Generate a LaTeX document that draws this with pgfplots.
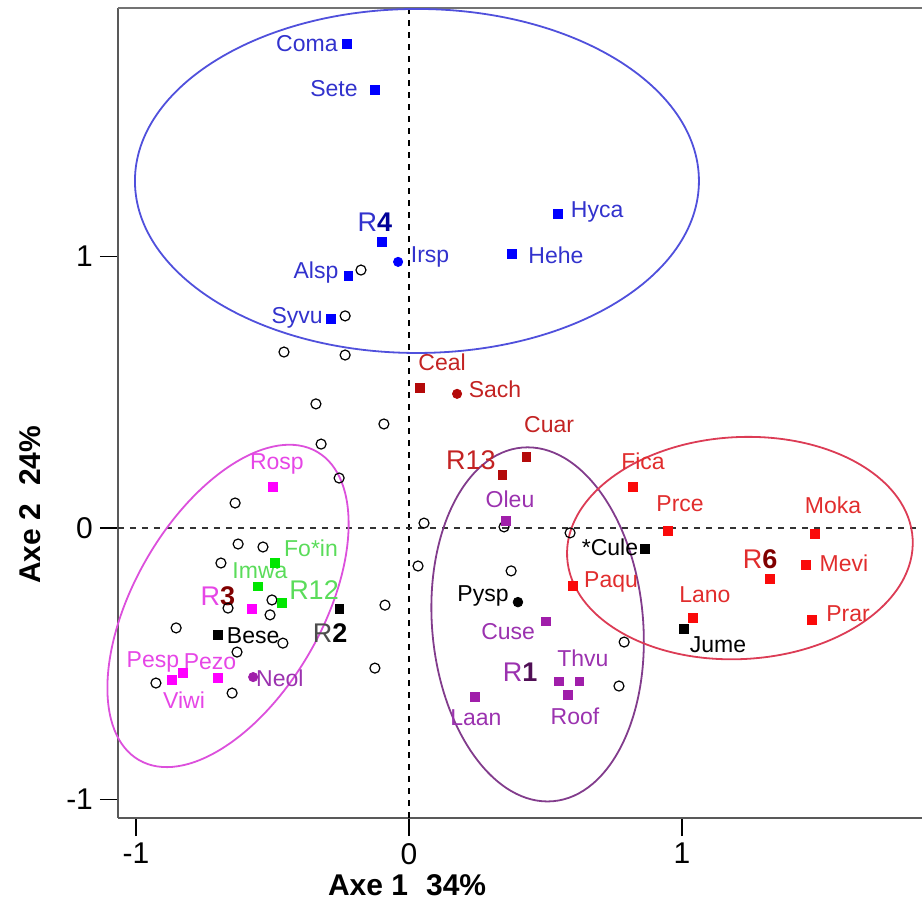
\documentclass[border=0pt]{standalone}
\usepackage{pgfplots}
\pgfplotsset{compat=1.18}
\usepackage{fontspec}
\setmainfont{Liberation Sans}
\definecolor{bluem}{RGB}{0,0,255}
\definecolor{bluel}{RGB}{50,50,205}
\definecolor{bluee}{RGB}{80,80,220}
\definecolor{redm}{RGB}{250,10,10}
\definecolor{redl}{RGB}{225,45,45}
\definecolor{dredm}{RGB}{180,10,10}
\definecolor{dredl}{RGB}{195,35,35}
\definecolor{rede}{RGB}{220,60,85}
\definecolor{purm}{RGB}{160,30,170}
\definecolor{purl}{RGB}{155,50,175}
\definecolor{pure}{RGB}{130,60,140}
\definecolor{magm}{RGB}{255,0,255}
\definecolor{magl}{RGB}{230,70,230}
\definecolor{mage}{RGB}{220,80,220}
\definecolor{grnm}{RGB}{0,230,0}
\definecolor{grnl}{RGB}{90,220,90}
\newcommand\lbl{\fontsize{11.5}{12}\selectfont}
\newcommand\rlbl{\fontsize{13.5}{14}\selectfont}
\newcommand\lab[4]{\node[text=#1, font=\lbl, inner sep=0pt] at (axis cs:#2,#3) {#4};}
\newcommand\rlab[4]{\node[text=#1, font=\rlbl, inner sep=0pt] at (axis cs:#2,#3) {#4};}
\begin{document}
\begin{tikzpicture}
\useasboundingbox (-59pt,-44pt) rectangle (402pt,409pt);
\begin{axis}[at={(0pt,0pt)}, anchor=south west, scale only axis,
  width=402pt, height=405pt,
  xmin=-1.066, xmax=1.879, ymin=-1.068, ymax=1.915,
  axis x line*=bottom, axis y line*=left,
  axis line style={line width=1pt, black!65},
  xtick={-1,0,1}, ytick={-1,0,1},
  xticklabels={-1,0,1}, yticklabels={-1,0,1},
  tick align=outside, major tick length=9pt,
  tick style={black, line width=0.7pt},
  ticklabel style={font=\fontsize{15}{15}\selectfont},
  clip=false]
\draw[black!55, line width=1pt] (rel axis cs:0,1) -- (rel axis cs:1,1);
\addplot[black, dashed, line width=0.7pt] coordinates {(0,-1.068) (0,1.915)};
\addplot[black!80, dashed, line width=0.7pt] coordinates {(-1.066,0) (1.879,0)};
% ellipses
\draw[bluee, line width=0.9pt] (axis cs:0.029,1.278) ellipse [x radius=141pt, y radius=86pt];
\draw[mage, line width=0.9pt, rotate around={60:(axis cs:-0.663,-0.287)}] (axis cs:-0.663,-0.287) ellipse [x radius=89pt, y radius=47pt];
\draw[pure, line width=0.9pt, rotate around={5:(axis cs:0.471,-0.355)}] (axis cs:0.471,-0.355) ellipse [x radius=52.75pt, y radius=88.75pt];
\draw[rede, line width=0.9pt, rotate around={3:(axis cs:1.212,-0.074)}] (axis cs:1.212,-0.074) ellipse [x radius=86.5pt, y radius=55.5pt];
% open circles
\addplot[only marks, mark=o, mark size=2.5pt, mark options={black, line width=0.6pt}] coordinates {
(-0.176,0.950) (-0.234,0.781) (-0.458,0.648) (-0.234,0.637) (-0.341,0.457)
(-0.322,0.309) (-0.092,0.383) (-0.256,0.184) (-0.637,0.092) (-0.626,-0.059)
(-0.535,-0.070) (-0.689,-0.129) (-0.663,-0.295) (-0.502,-0.265) (-0.509,-0.320)
(-0.853,-0.368) (-0.462,-0.424) (-0.630,-0.457) (-0.927,-0.571) (-0.648,-0.608)
(-0.125,-0.516) (-0.088,-0.284) (0.055,0.018) (0.348,0.004) (0.374,-0.158)
(0.590,-0.018) (0.788,-0.420) (0.769,-0.582) (0.033,-0.140)};
% blue
\addplot[only marks, mark=square*, mark size=2.1pt, bluem] coordinates {
(-0.227,1.783) (-0.125,1.613) (-0.099,1.053) (0.546,1.157) (0.377,1.009) (-0.223,0.928) (-0.286,0.770)};
\addplot[only marks, mark=*, mark size=2.3pt, bluem] coordinates {(-0.040,0.980)};
% red
\addplot[only marks, mark=square*, mark size=2.2pt, redm] coordinates {
(0.821,0.151) (0.949,-0.011) (1.487,-0.022) (1.454,-0.136) (1.322,-0.188) (1.040,-0.331) (1.476,-0.339) (0.601,-0.214)};
\addplot[only marks, mark=square*, mark size=2.1pt, dredm] coordinates {(0.040,0.516) (0.341,0.195) (0.429,0.262)};
\addplot[only marks, mark=*, mark size=2.3pt, dredm] coordinates {(0.176,0.494)};
% black
\addplot[only marks, mark=square*, mark size=2.1pt, black] coordinates {(0.864,-0.077) (1.007,-0.372) (-0.256,-0.298) (-0.700,-0.394)};
\addplot[only marks, mark=*, mark size=2.4pt, black] coordinates {(0.399,-0.273)};
% purple
\addplot[only marks, mark=square*, mark size=2.1pt, purm] coordinates {
(0.355,0.026) (0.502,-0.343) (0.549,-0.564) (0.623,-0.564) (0.582,-0.615) (0.242,-0.622)};
\addplot[only marks, mark=*, mark size=2.3pt, purm] coordinates {(-0.571,-0.549)};
% magenta
\addplot[only marks, mark=square*, mark size=2.1pt, magm] coordinates {
(-0.498,0.151) (-0.575,-0.298) (-0.868,-0.560) (-0.828,-0.534) (-0.700,-0.552)};
% green
\addplot[only marks, mark=square*, mark size=2.1pt, grnm] coordinates {
(-0.491,-0.129) (-0.553,-0.214) (-0.465,-0.276)};
% labels
\lab{bluel}{-0.374}{1.783}{Coma}
\lab{bluel}{-0.275}{1.617}{Sete}
\lab{bluel}{0.689}{1.164}{Hyca}
\lab{bluel}{0.538}{1.006}{Hehe}
\rlab{bluel}{-0.125}{1.127}{R{\bfseries\color{blue!60!black}4}}
\lab{bluel}{0.077}{0.998}{Irsp}
\lab{bluel}{-0.341}{0.939}{Alsp}
\lab{bluel}{-0.410}{0.773}{Syvu}
\lab{dredl}{0.121}{0.611}{Ceal}
\lab{dredl}{0.315}{0.512}{Sach}
\lab{dredl}{0.513}{0.379}{Cuar}
\rlab{dredl}{0.227}{0.250}{R13}
\lab{purl}{0.370}{0.107}{Oleu}
\lab{redl}{0.857}{0.247}{Fica}
\lab{redl}{0.993}{0.088}{Prce}
\lab{redl}{1.553}{0.085}{Moka}
\lab{black}{0.736}{-0.070}{*Cule}
\rlab{redl}{1.286}{-0.114}{R{\bfseries\color{red!50!black}6}}
\lab{redl}{1.593}{-0.129}{Mevi}
\lab{redl}{0.740}{-0.199}{Paqu}
\lab{redl}{1.084}{-0.247}{Lano}
\lab{black}{1.132}{-0.431}{Jume}
\lab{redl}{1.608}{-0.317}{Prar}
\lab{black}{0.271}{-0.250}{Pysp}
\lab{purl}{0.363}{-0.383}{Cuse}
\lab{purl}{0.637}{-0.479}{Thvu}
\rlab{purl}{0.407}{-0.530}{R{\bfseries\color{purm!50!black}1}}
\lab{purl}{0.245}{-0.700}{Laan}
\lab{purl}{0.608}{-0.692}{Roof}
\lab{magl}{-0.484}{0.236}{Rosp}
\lab{grnl}{-0.359}{-0.074}{Fo*in}
\lab{grnl}{-0.546}{-0.158}{Imwa}
\rlab{grnl}{-0.348}{-0.228}{R12}
\rlab{magl}{-0.700}{-0.250}{R{\bfseries\color{red!50!black}3}}
\rlab{black!70}{-0.289}{-0.387}{R{\bfseries\color{black}2}}
\lab{black}{-0.571}{-0.398}{Bese}
\lab{magl}{-0.938}{-0.494}{Pesp}
\lab{magl}{-0.729}{-0.494}{Pezo}
\lab{purl}{-0.473}{-0.552}{Neol}
\lab{magl}{-0.824}{-0.634}{Viwi}
% axis titles
\node[font=\bfseries\fontsize{15}{15}\selectfont] at (axis cs:-0.007,-1.315) {Axe 1\hspace{0.6em}34\%};
\node[font=\bfseries\fontsize{15}{15}\selectfont, rotate=90] at (axis cs:-1.388,0.085) {Axe 2\hspace{0.6em}24\%};
\end{axis}
\end{tikzpicture}
\end{document}
